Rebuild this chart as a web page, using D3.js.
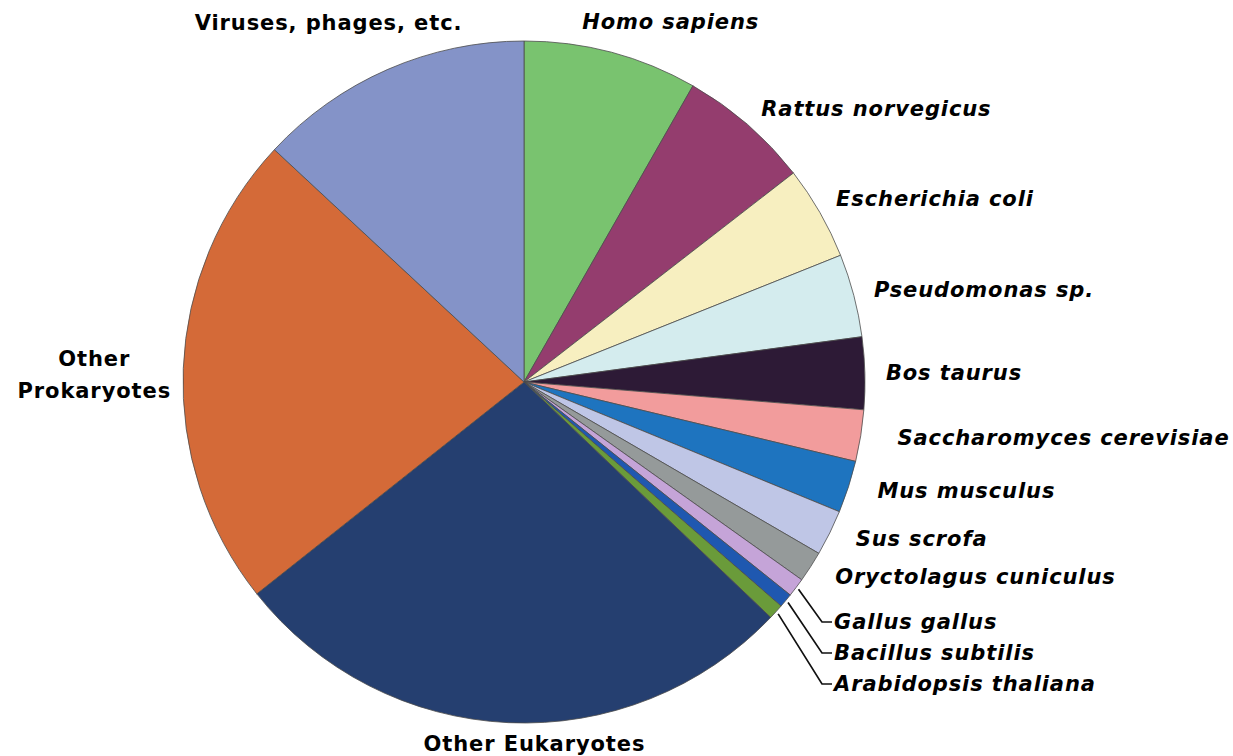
<!DOCTYPE html>
<html>
<head>
<meta charset="utf-8">
<script src="https://cdn.jsdelivr.net/npm/d3@7"></script>
<style>
  body { margin: 0; background: #fff; }
  svg { display: block; }
  .lbl { font-family: "DejaVu Sans", Verdana, sans-serif; font-weight: bold; font-size: 21px; letter-spacing: 0.9px; fill: #000; }
</style>
</head>
<body>
<div id="chart"></div>
<script>
// slices, clockwise from 12 o'clock (share of total, %)
const taxa = [
    "Homo sapiens", "Rattus norvegicus", "Escherichia coli", "Pseudomonas sp.",
    "Bos taurus", "Saccharomyces cerevisiae", "Mus musculus", "Sus scrofa",
    "Oryctolagus cuniculus", "Gallus gallus", "Bacillus subtilis", "Arabidopsis thaliana",
    "Other Eukaryotes", "Other Prokaryotes", "Viruses, phages, etc."
];
const shares = [8.25, 6.25, 4.44, 3.94, 3.42, 2.44, 2.47, 2.17, 1.47, 0.89, 0.67, 0.72, 27.2, 22.6, 13.07];
const sliceColors = [
    "#79c36f", "#943d6e", "#f7efc0", "#d4ecee", "#2d1a36", "#f29c9c", "#1e74bf", "#bfc6e6",
    "#959a9a", "#c5a4d8", "#1f58b0", "#6a9b3a", "#253f70", "#d46a38", "#8493c8"
];
// groups that are not a single species -> upright text
const groupLabels = ["Other Eukaryotes", "Other Prokaryotes", "Viruses, phages, etc."];
// tiny slices that get a leader line
const leaderLabels = ["Gallus gallus", "Bacillus subtilis", "Arabidopsis thaliana"];

const width = 1233, height = 756;
const cx = 524, cy = 382, radius = 341;
const labelR = 362;

// hand nudges so labels sit where the original put them
const nudge = {
    "Homo sapiens": [54, -10],
    "Escherichia coli": [-2, -3],
    "Saccharomyces cerevisiae": [16, -1],
    "Mus musculus": [9, -3],
    "Sus scrofa": [7, -4],
    "Oryctolagus cuniculus": [7, -2],
    "Other Eukaryotes": [27, 0],
    "Viruses, phages, etc.": [-51, -27]
};

const svg = d3.select("#chart").append("svg")
    .attr("width", width)
    .attr("height", height);

const pie = d3.pie().sort(null).value(d => d.value);
const data = taxa.map((t, i) => ({name: t, value: shares[i], color: sliceColors[i]}));
const arcs = pie(data);

const arc = d3.arc().innerRadius(0).outerRadius(radius);

const g = svg.append("g").attr("transform", `translate(${cx},${cy})`);

g.selectAll("path")
    .data(arcs)
    .enter().append("path")
    .attr("d", arc)
    .attr("fill", d => d.data.color)
    .attr("stroke", "#4d4d4d")
    .attr("stroke-width", 0.8)
    .attr("stroke-linejoin", "round");

function polar(angle, r) {
    return [Math.sin(angle) * r, -Math.cos(angle) * r];
}

// regular labels
arcs.filter(d => leaderLabels.indexOf(d.data.name) < 0).forEach(d => {
    let mid = (d.startAngle + d.endAngle) / 2;
    let [x, y] = polar(mid, labelR);
    let s = Math.sin(mid);
    let anchor = s > 0.2 ? "start" : (s < -0.2 ? "end" : "middle");
    let n = nudge[d.data.name] || [0, 0];
    let name = d.data.name;

    if (name === "Homo sapiens" || name === "Viruses, phages, etc.") anchor = "middle";

    let text = g.append("text")
        .attr("class", "lbl")
        .attr("text-anchor", anchor)
        .style("font-style", groupLabels.indexOf(name) < 0 ? "italic" : "normal");

    if (name === "Other Prokaryotes") {
        // two stacked lines, centred
        text.attr("text-anchor", "middle");
        let tx = x - 68, ty = y + 7;
        text.append("tspan").attr("x", tx).attr("y", ty - 16).attr("dy", "0.35em").text("Other");
        text.append("tspan").attr("x", tx).attr("y", ty + 16).attr("dy", "0.35em").text("Prokaryotes");
    } else {
        text.attr("x", x + n[0])
            .attr("y", y + n[1])
            .attr("dy", "0.35em")
            .text(name);
    }
});

// leader-line labels, stacked under the last regular label
const leaderX = 822 - cx;
let leaderY = 622 - cy;
arcs.filter(d => leaderLabels.indexOf(d.data.name) >= 0).forEach(d => {
    let mid = (d.startAngle + d.endAngle) / 2;
    let [x0, y0] = polar(mid, radius + 3);

    g.append("path")
        .attr("d", d3.line()([[x0, y0], [leaderX, leaderY], [leaderX + 10, leaderY]]))
        .attr("fill", "none")
        .attr("stroke", "#111")
        .attr("stroke-width", 1.7);

    g.append("text")
        .attr("class", "lbl")
        .style("font-style", "italic")
        .attr("x", leaderX + 12)
        .attr("y", leaderY)
        .attr("dy", "0.35em")
        .text(d.data.name);

    leaderY += 31;
});
</script>
</body>
</html>
